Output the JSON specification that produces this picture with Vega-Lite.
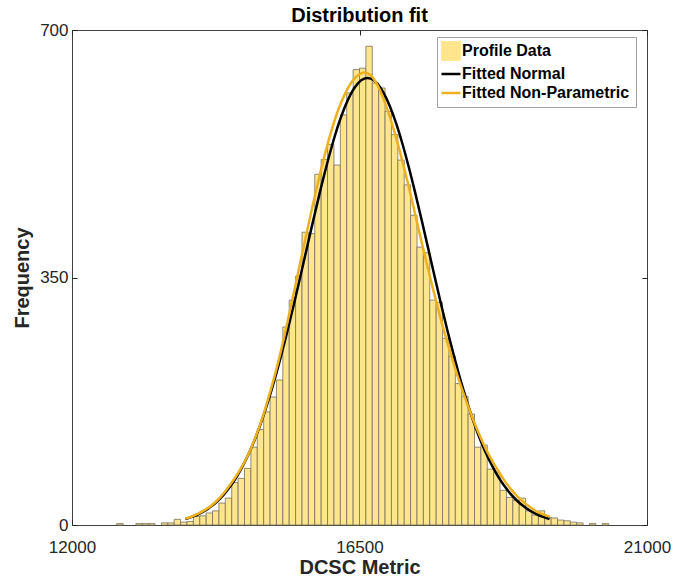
{
  "$schema": "https://vega.github.io/schema/vega-lite/v6.json",
  "autosize": {"type": "none"},
  "padding": {"left": 72, "top": 30, "right": 27, "bottom": 56},
  "width": 575,
  "height": 495,
  "background": "white",
  "config": {
    "view": {"stroke": "#404040", "strokeWidth": 1},
    "font": "Liberation Sans",
    "legend": {
      "title": null, "orient": "none", "legendX": 365, "legendY": 7,
      "direction": "vertical",
      "fillColor": "white", "strokeColor": "#a0a0a0", "padding": 6,
      "labelFont": "Liberation Sans", "labelFontSize": 16, "labelFontWeight": "bold", "labelColor": "black",
      "labelOffset": 3, "rowPadding": 3, "symbolSize": 361, "labelLimit": 300
    }
  },
  "title": {"text": "Distribution fit", "font": "Liberation Sans", "fontSize": 20, "fontWeight": "bold", "color": "black", "anchor": "middle", "offset": -5},
  "datasets": {
    "hist": [
      {"lo": 12700, "hi": 12800, "count": 2},
      {"lo": 13000, "hi": 13100, "count": 2},
      {"lo": 13100, "hi": 13200, "count": 2},
      {"lo": 13200, "hi": 13300, "count": 2},
      {"lo": 13400, "hi": 13500, "count": 3},
      {"lo": 13500, "hi": 13600, "count": 3},
      {"lo": 13600, "hi": 13700, "count": 8},
      {"lo": 13700, "hi": 13800, "count": 4},
      {"lo": 13800, "hi": 13900, "count": 5},
      {"lo": 13900, "hi": 14000, "count": 12},
      {"lo": 14000, "hi": 14100, "count": 13},
      {"lo": 14100, "hi": 14200, "count": 17},
      {"lo": 14200, "hi": 14300, "count": 20},
      {"lo": 14300, "hi": 14400, "count": 31},
      {"lo": 14400, "hi": 14500, "count": 38},
      {"lo": 14500, "hi": 14600, "count": 60},
      {"lo": 14600, "hi": 14700, "count": 66},
      {"lo": 14700, "hi": 14800, "count": 80},
      {"lo": 14800, "hi": 14900, "count": 110},
      {"lo": 14900, "hi": 15000, "count": 135},
      {"lo": 15000, "hi": 15100, "count": 160},
      {"lo": 15100, "hi": 15200, "count": 181},
      {"lo": 15200, "hi": 15300, "count": 205},
      {"lo": 15300, "hi": 15400, "count": 280},
      {"lo": 15400, "hi": 15500, "count": 318},
      {"lo": 15500, "hi": 15600, "count": 352},
      {"lo": 15600, "hi": 15700, "count": 414},
      {"lo": 15700, "hi": 15800, "count": 412},
      {"lo": 15800, "hi": 15900, "count": 496},
      {"lo": 15900, "hi": 16000, "count": 517},
      {"lo": 16000, "hi": 16100, "count": 538},
      {"lo": 16100, "hi": 16200, "count": 509},
      {"lo": 16200, "hi": 16300, "count": 580},
      {"lo": 16300, "hi": 16400, "count": 611},
      {"lo": 16400, "hi": 16500, "count": 644},
      {"lo": 16500, "hi": 16600, "count": 646},
      {"lo": 16600, "hi": 16700, "count": 677},
      {"lo": 16700, "hi": 16800, "count": 625},
      {"lo": 16800, "hi": 16900, "count": 618},
      {"lo": 16900, "hi": 17000, "count": 585},
      {"lo": 17000, "hi": 17100, "count": 552},
      {"lo": 17100, "hi": 17200, "count": 516},
      {"lo": 17200, "hi": 17300, "count": 481},
      {"lo": 17300, "hi": 17400, "count": 438},
      {"lo": 17400, "hi": 17500, "count": 393},
      {"lo": 17500, "hi": 17600, "count": 385},
      {"lo": 17600, "hi": 17700, "count": 318},
      {"lo": 17700, "hi": 17800, "count": 315},
      {"lo": 17800, "hi": 17900, "count": 264},
      {"lo": 17900, "hi": 18000, "count": 239},
      {"lo": 18000, "hi": 18100, "count": 200},
      {"lo": 18100, "hi": 18200, "count": 182},
      {"lo": 18200, "hi": 18300, "count": 157},
      {"lo": 18300, "hi": 18400, "count": 110},
      {"lo": 18400, "hi": 18500, "count": 113},
      {"lo": 18500, "hi": 18600, "count": 79},
      {"lo": 18600, "hi": 18700, "count": 74},
      {"lo": 18700, "hi": 18800, "count": 49},
      {"lo": 18800, "hi": 18900, "count": 39},
      {"lo": 18900, "hi": 19000, "count": 35},
      {"lo": 19000, "hi": 19100, "count": 38},
      {"lo": 19100, "hi": 19200, "count": 20},
      {"lo": 19200, "hi": 19300, "count": 14},
      {"lo": 19300, "hi": 19400, "count": 20},
      {"lo": 19400, "hi": 19500, "count": 11},
      {"lo": 19500, "hi": 19600, "count": 10},
      {"lo": 19600, "hi": 19700, "count": 7},
      {"lo": 19700, "hi": 19800, "count": 6},
      {"lo": 19800, "hi": 19900, "count": 4},
      {"lo": 19900, "hi": 20000, "count": 3},
      {"lo": 20100, "hi": 20200, "count": 2},
      {"lo": 20300, "hi": 20400, "count": 2}
    ],
    "curves": [
      {"x": 13775, "y": 8.5, "s": "Fitted Normal"},
      {"x": 13875, "y": 11.4, "s": "Fitted Normal"},
      {"x": 13975, "y": 15.2, "s": "Fitted Normal"},
      {"x": 14075, "y": 20.0, "s": "Fitted Normal"},
      {"x": 14175, "y": 26.0, "s": "Fitted Normal"},
      {"x": 14275, "y": 33.6, "s": "Fitted Normal"},
      {"x": 14375, "y": 42.9, "s": "Fitted Normal"},
      {"x": 14475, "y": 54.3, "s": "Fitted Normal"},
      {"x": 14575, "y": 67.8, "s": "Fitted Normal"},
      {"x": 14675, "y": 83.9, "s": "Fitted Normal"},
      {"x": 14775, "y": 102.5, "s": "Fitted Normal"},
      {"x": 14875, "y": 124.2, "s": "Fitted Normal"},
      {"x": 14975, "y": 148.7, "s": "Fitted Normal"},
      {"x": 15075, "y": 176.5, "s": "Fitted Normal"},
      {"x": 15175, "y": 206.9, "s": "Fitted Normal"},
      {"x": 15275, "y": 240.2, "s": "Fitted Normal"},
      {"x": 15375, "y": 275.4, "s": "Fitted Normal"},
      {"x": 15475, "y": 312.9, "s": "Fitted Normal"},
      {"x": 15575, "y": 351.7, "s": "Fitted Normal"},
      {"x": 15675, "y": 391.2, "s": "Fitted Normal"},
      {"x": 15775, "y": 430.4, "s": "Fitted Normal"},
      {"x": 15875, "y": 468.6, "s": "Fitted Normal"},
      {"x": 15975, "y": 504.8, "s": "Fitted Normal"},
      {"x": 16075, "y": 538.1, "s": "Fitted Normal"},
      {"x": 16175, "y": 567.5, "s": "Fitted Normal"},
      {"x": 16275, "y": 592.2, "s": "Fitted Normal"},
      {"x": 16375, "y": 611.4, "s": "Fitted Normal"},
      {"x": 16475, "y": 624.5, "s": "Fitted Normal"},
      {"x": 16575, "y": 631.2, "s": "Fitted Normal"},
      {"x": 16625, "y": 632, "s": "Fitted Normal"},
      {"x": 16675, "y": 631.2, "s": "Fitted Normal"},
      {"x": 16775, "y": 624.5, "s": "Fitted Normal"},
      {"x": 16875, "y": 611.4, "s": "Fitted Normal"},
      {"x": 16975, "y": 592.2, "s": "Fitted Normal"},
      {"x": 17075, "y": 567.5, "s": "Fitted Normal"},
      {"x": 17175, "y": 538.1, "s": "Fitted Normal"},
      {"x": 17275, "y": 504.8, "s": "Fitted Normal"},
      {"x": 17375, "y": 468.6, "s": "Fitted Normal"},
      {"x": 17475, "y": 430.4, "s": "Fitted Normal"},
      {"x": 17575, "y": 391.2, "s": "Fitted Normal"},
      {"x": 17675, "y": 351.7, "s": "Fitted Normal"},
      {"x": 17775, "y": 312.9, "s": "Fitted Normal"},
      {"x": 17875, "y": 275.4, "s": "Fitted Normal"},
      {"x": 17975, "y": 240.2, "s": "Fitted Normal"},
      {"x": 18075, "y": 206.9, "s": "Fitted Normal"},
      {"x": 18175, "y": 176.5, "s": "Fitted Normal"},
      {"x": 18275, "y": 148.7, "s": "Fitted Normal"},
      {"x": 18375, "y": 124.2, "s": "Fitted Normal"},
      {"x": 18475, "y": 102.5, "s": "Fitted Normal"},
      {"x": 18575, "y": 83.9, "s": "Fitted Normal"},
      {"x": 18675, "y": 67.8, "s": "Fitted Normal"},
      {"x": 18775, "y": 54.3, "s": "Fitted Normal"},
      {"x": 18875, "y": 42.9, "s": "Fitted Normal"},
      {"x": 18975, "y": 33.6, "s": "Fitted Normal"},
      {"x": 19075, "y": 26.0, "s": "Fitted Normal"},
      {"x": 19175, "y": 20.0, "s": "Fitted Normal"},
      {"x": 19275, "y": 15.2, "s": "Fitted Normal"},
      {"x": 19375, "y": 11.4, "s": "Fitted Normal"},
      {"x": 19475, "y": 8.5, "s": "Fitted Normal"},
      {"x": 13775, "y": 9, "s": "Fitted Non-Parametric"},
      {"x": 13875, "y": 12, "s": "Fitted Non-Parametric"},
      {"x": 13975, "y": 16, "s": "Fitted Non-Parametric"},
      {"x": 14075, "y": 21, "s": "Fitted Non-Parametric"},
      {"x": 14175, "y": 27, "s": "Fitted Non-Parametric"},
      {"x": 14275, "y": 35, "s": "Fitted Non-Parametric"},
      {"x": 14375, "y": 45, "s": "Fitted Non-Parametric"},
      {"x": 14475, "y": 57, "s": "Fitted Non-Parametric"},
      {"x": 14575, "y": 70, "s": "Fitted Non-Parametric"},
      {"x": 14675, "y": 85, "s": "Fitted Non-Parametric"},
      {"x": 14775, "y": 103, "s": "Fitted Non-Parametric"},
      {"x": 14875, "y": 125, "s": "Fitted Non-Parametric"},
      {"x": 14975, "y": 150, "s": "Fitted Non-Parametric"},
      {"x": 15075, "y": 180, "s": "Fitted Non-Parametric"},
      {"x": 15175, "y": 212, "s": "Fitted Non-Parametric"},
      {"x": 15275, "y": 248, "s": "Fitted Non-Parametric"},
      {"x": 15375, "y": 288, "s": "Fitted Non-Parametric"},
      {"x": 15475, "y": 330, "s": "Fitted Non-Parametric"},
      {"x": 15575, "y": 372, "s": "Fitted Non-Parametric"},
      {"x": 15675, "y": 414, "s": "Fitted Non-Parametric"},
      {"x": 15775, "y": 455, "s": "Fitted Non-Parametric"},
      {"x": 15875, "y": 494, "s": "Fitted Non-Parametric"},
      {"x": 15975, "y": 530, "s": "Fitted Non-Parametric"},
      {"x": 16075, "y": 562, "s": "Fitted Non-Parametric"},
      {"x": 16175, "y": 589, "s": "Fitted Non-Parametric"},
      {"x": 16275, "y": 610, "s": "Fitted Non-Parametric"},
      {"x": 16375, "y": 626, "s": "Fitted Non-Parametric"},
      {"x": 16475, "y": 636, "s": "Fitted Non-Parametric"},
      {"x": 16575, "y": 640, "s": "Fitted Non-Parametric"},
      {"x": 16675, "y": 636, "s": "Fitted Non-Parametric"},
      {"x": 16775, "y": 623, "s": "Fitted Non-Parametric"},
      {"x": 16875, "y": 603, "s": "Fitted Non-Parametric"},
      {"x": 16975, "y": 577, "s": "Fitted Non-Parametric"},
      {"x": 17075, "y": 547, "s": "Fitted Non-Parametric"},
      {"x": 17175, "y": 513, "s": "Fitted Non-Parametric"},
      {"x": 17275, "y": 477, "s": "Fitted Non-Parametric"},
      {"x": 17375, "y": 438, "s": "Fitted Non-Parametric"},
      {"x": 17475, "y": 399, "s": "Fitted Non-Parametric"},
      {"x": 17575, "y": 361, "s": "Fitted Non-Parametric"},
      {"x": 17675, "y": 325, "s": "Fitted Non-Parametric"},
      {"x": 17775, "y": 290, "s": "Fitted Non-Parametric"},
      {"x": 17875, "y": 258, "s": "Fitted Non-Parametric"},
      {"x": 17975, "y": 228, "s": "Fitted Non-Parametric"},
      {"x": 18075, "y": 200, "s": "Fitted Non-Parametric"},
      {"x": 18175, "y": 174, "s": "Fitted Non-Parametric"},
      {"x": 18275, "y": 150, "s": "Fitted Non-Parametric"},
      {"x": 18375, "y": 128, "s": "Fitted Non-Parametric"},
      {"x": 18475, "y": 108, "s": "Fitted Non-Parametric"},
      {"x": 18575, "y": 91, "s": "Fitted Non-Parametric"},
      {"x": 18675, "y": 76, "s": "Fitted Non-Parametric"},
      {"x": 18775, "y": 62, "s": "Fitted Non-Parametric"},
      {"x": 18875, "y": 50, "s": "Fitted Non-Parametric"},
      {"x": 18975, "y": 40, "s": "Fitted Non-Parametric"},
      {"x": 19075, "y": 32, "s": "Fitted Non-Parametric"},
      {"x": 19175, "y": 25, "s": "Fitted Non-Parametric"},
      {"x": 19275, "y": 19, "s": "Fitted Non-Parametric"},
      {"x": 19375, "y": 15, "s": "Fitted Non-Parametric"},
      {"x": 19475, "y": 12, "s": "Fitted Non-Parametric"}
    ]
  },
  "resolve": {"axis": {"x": "independent", "y": "independent"}},
  "layer": [
    {
      "data": {"name": "hist"},
      "mark": {"type": "bar", "stroke": "#75705f", "strokeWidth": 0.8, "fillOpacity": 1},
      "encoding": {
        "x": {
          "field": "lo", "type": "quantitative",
          "scale": {"domain": [12000, 21000], "nice": false, "zero": false},
          "axis": {
            "orient": "bottom", "values": [12000, 16500, 21000], "format": "d",
            "domain": false, "grid": false, "tickSize": -5, "tickColor": "#262626",
            "labelFlush": false, "labelOverlap": false, "labelBound": false,
            "labelAlign": "center", "labelBaseline": "top",
            "labelFont": "Liberation Sans", "labelFontSize": 17, "labelColor": "#262626", "labelPadding": 19,
            "title": "DCSC Metric", "titleFont": "Liberation Sans", "titleFontSize": 20, "titleFontWeight": "bold",
            "titleColor": "#262626", "titlePadding": 2
          }
        },
        "x2": {"field": "hi"},
        "y": {
          "field": "count", "type": "quantitative",
          "scale": {"domain": [0, 700], "nice": false},
          "axis": {
            "orient": "left", "values": [0, 350, 700],
            "domain": false, "grid": false, "tickSize": -5, "tickColor": "#262626",
            "labelFlush": false, "labelOverlap": false, "labelBound": false,
            "labelAlign": "right", "labelBaseline": "middle",
            "labelFont": "Liberation Sans", "labelFontSize": 17, "labelColor": "#262626", "labelPadding": 9,
            "title": "Frequency", "titleFont": "Liberation Sans", "titleFontSize": 20, "titleFontWeight": "bold",
            "titleColor": "#262626", "titlePadding": 7
          }
        },
        "y2": {"datum": 0},
        "color": {
          "datum": "Profile Data",
          "scale": {"domain": ["Profile Data", "Fitted Normal", "Fitted Non-Parametric"], "range": ["#ffe58c", "#000000", "#EDB120"]},
          "legend": {
            "title": null,
            "encode": {
              "symbols": {
                "update": {
                  "shape": {"signal": "datum.value === 'Profile Data' ? 'square' : 'stroke'"},
                  "fill": {"signal": "datum.value === 'Profile Data' ? '#ffe58c' : 'transparent'"},
                  "stroke": {"signal": "datum.value === 'Profile Data' ? '#75705f' : (datum.value === 'Fitted Normal' ? '#000000' : '#EDB120')"},
                  "strokeWidth": {"signal": "datum.value === 'Profile Data' ? 0.8 : 2.5"},
                  "opacity": {"value": 1}
                }
              }
            }
          }
        }
      }
    },
    {
      "data": {"name": "curves"},
      "mark": {"type": "line", "strokeWidth": 2.5, "interpolate": "monotone"},
      "encoding": {
        "x": {
          "field": "x", "type": "quantitative",
          "axis": {"orient": "top", "values": [12000, 16500, 21000], "labels": false, "domain": false, "grid": false, "tickSize": -5, "tickColor": "#262626", "title": null}
        },
        "y": {
          "field": "y", "type": "quantitative",
          "axis": {"orient": "right", "values": [0, 350, 700], "labels": false, "domain": false, "grid": false, "tickSize": -5, "tickColor": "#262626", "title": null}
        },
        "color": {
          "field": "s", "type": "nominal",
          "legend": {
            "title": null,
            "encode": {
              "symbols": {
                "update": {
                  "shape": {"signal": "datum.value === 'Profile Data' ? 'square' : 'stroke'"},
                  "fill": {"signal": "datum.value === 'Profile Data' ? '#ffe58c' : 'transparent'"},
                  "stroke": {"signal": "datum.value === 'Profile Data' ? '#75705f' : (datum.value === 'Fitted Normal' ? '#000000' : '#EDB120')"},
                  "strokeWidth": {"signal": "datum.value === 'Profile Data' ? 0.8 : 2.5"},
                  "opacity": {"value": 1}
                }
              }
            }
          }
        },
        "order": {"field": "x", "type": "quantitative"}
      }
    }
  ]
}
